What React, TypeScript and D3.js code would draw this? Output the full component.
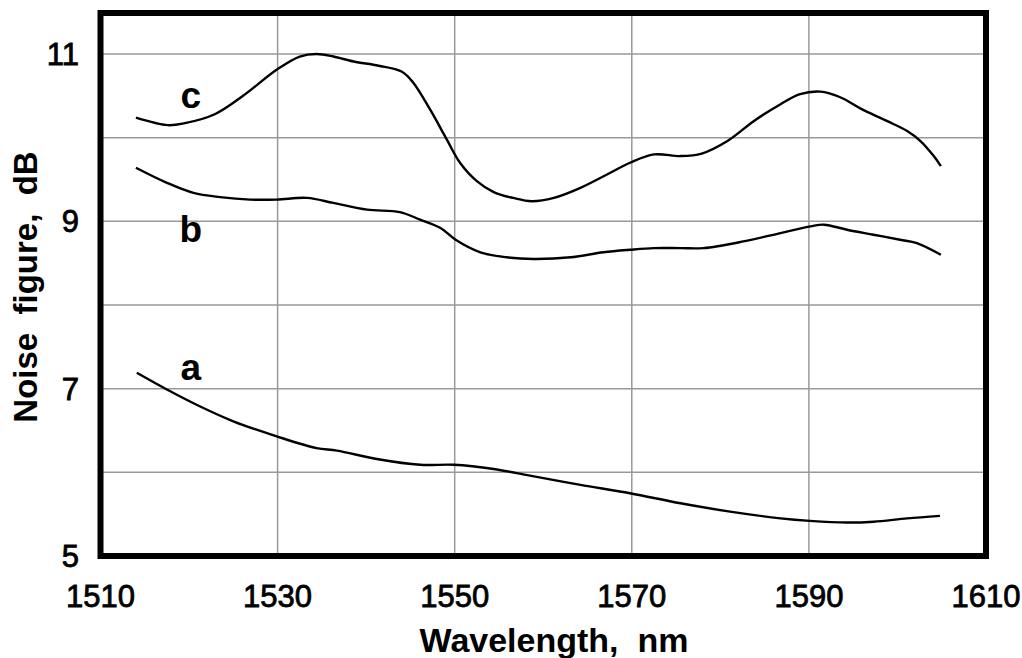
import React from "react";
import * as d3 from "d3";

const xTicks = [1510, 1530, 1550, 1570, 1590, 1610];
const yTicks = [5, 7, 9, 11];
const xGrid = [1530, 1550, 1570, 1590];
const yGrid = [6, 7, 8, 9, 10, 11];

const cWl = [1514.0, 1517.6, 1519.4, 1522.9, 1526.1, 1530.0, 1532.5, 1534.4, 1536.3, 1538.6, 1541.4, 1544.0, 1545.3, 1547.2, 1549.1, 1550.6, 1552.5, 1554.4, 1556.6, 1558.7, 1561.2, 1564.2, 1567.2, 1569.8, 1572.5, 1575.5, 1577.9, 1580.8, 1583.8, 1586.8, 1589.0, 1591.3, 1593.6, 1595.8, 1598.8, 1601.1, 1602.6, 1604.1, 1604.9];
const cNf = [10.24, 10.15, 10.17, 10.28, 10.50, 10.82, 10.97, 11.00, 10.97, 10.91, 10.86, 10.79, 10.66, 10.34, 9.98, 9.70, 9.48, 9.35, 9.28, 9.24, 9.28, 9.40, 9.56, 9.70, 9.80, 9.78, 9.81, 9.96, 10.20, 10.40, 10.52, 10.55, 10.48, 10.35, 10.20, 10.08, 9.96, 9.78, 9.66];

const bWl = [1514.0, 1517.5, 1520.5, 1523.5, 1526.9, 1529.9, 1533.3, 1536.3, 1540.1, 1543.8, 1546.1, 1548.4, 1550.1, 1552.9, 1555.9, 1558.9, 1563.1, 1566.8, 1569.8, 1572.5, 1575.5, 1578.1, 1582.6, 1586.8, 1590.2, 1591.7, 1594.3, 1597.3, 1600.3, 1602.2, 1604.9];
const bNf = [9.64, 9.46, 9.34, 9.29, 9.26, 9.26, 9.28, 9.22, 9.14, 9.11, 9.02, 8.92, 8.78, 8.63, 8.57, 8.55, 8.57, 8.63, 8.66, 8.68, 8.68, 8.68, 8.76, 8.86, 8.94, 8.96, 8.90, 8.84, 8.78, 8.74, 8.60];

const aWl = [1514.1, 1517.5, 1521.2, 1525.0, 1529.9, 1534.4, 1536.7, 1541.2, 1546.1, 1549.9, 1554.4, 1558.5, 1564.2, 1569.8, 1575.5, 1581.1, 1586.8, 1590.1, 1594.3, 1597.3, 1601.1, 1604.8];
const aNf = [7.19, 6.99, 6.79, 6.61, 6.43, 6.29, 6.26, 6.16, 6.09, 6.09, 6.04, 5.96, 5.85, 5.75, 5.63, 5.53, 5.45, 5.42, 5.40, 5.41, 5.45, 5.48];

const curveLabels = ["a", "b", "c"];
const labelWl = [1520.2, 1520.2, 1520.2];
const labelNf = [7.1, 8.75, 10.35];

const W = 1022;
const H = 658;
const FONT = "'Liberation Sans', Arial, Helvetica, sans-serif";

export default function App() {
  const x = d3.scaleLinear().domain([1510, 1610]).range([100.5, 986]);
  const y = d3.scaleLinear().domain([5, 11]).range([556, 54]);
  const line = d3
    .line<[number, number]>()
    .x((d) => x(d[0]))
    .y((d) => y(d[1]))
    .curve(d3.curveCatmullRom.alpha(0.5));

  const series = [
    { wl: aWl, nf: aNf },
    { wl: bWl, nf: bNf },
    { wl: cWl, nf: cNf },
  ];

  const yTop = y(11.49);
  const yBot = y(5);

  return (
    <svg
      width={W}
      height={H}
      style={{ position: "absolute", left: 0, top: 0, background: "#fff" }}
      fontFamily={FONT}
    >
      <rect x={0} y={0} width={W} height={H} fill="#fff" />
      {xGrid.map((v) => (
        <line key={"xg" + v} x1={x(v)} x2={x(v)} y1={yTop} y2={yBot} stroke="#999" strokeWidth={1.5} />
      ))}
      {yGrid.map((v) => (
        <line key={"yg" + v} x1={x(1510)} x2={x(1610)} y1={y(v)} y2={y(v)} stroke="#999" strokeWidth={1.5} />
      ))}
      {series.map((s, i) => (
        <path
          key={"s" + i}
          d={line(s.wl.map((w, j) => [w, s.nf[j]] as [number, number])) || ""}
          fill="none"
          stroke="#000"
          strokeWidth={2.4}
        />
      ))}
      <rect
        x={x(1510)}
        y={yTop}
        width={x(1610) - x(1510)}
        height={yBot - yTop}
        fill="none"
        stroke="#000"
        strokeWidth={6}
      />
      {yTicks.map((v) => (
        <text key={"yt" + v} x={79} y={y(v)} dy="0.36em" textAnchor="end" fontSize={31} fill="#000" stroke="#000" strokeWidth={0.8}>
          {v}
        </text>
      ))}
      {xTicks.map((v) => (
        <text key={"xt" + v} x={x(v)} y={607} textAnchor="middle" fontSize={31} fill="#000" stroke="#000" strokeWidth={0.8}>
          {v}
        </text>
      ))}
      <text x={554} y={652} textAnchor="middle" fontSize={34} fontWeight="bold" fill="#000" style={{ whiteSpace: "pre" }}>
        {"Wavelength,  nm"}
      </text>
      <text
        transform={`translate(37, 287) rotate(-90)`}
        textAnchor="middle"
        fontSize={33}
        fontWeight="bold"
        fill="#000"
        style={{ whiteSpace: "pre" }}
      >
        {"Noise  figure,  dB"}
      </text>
      {curveLabels.map((t, i) => (
        <text key={t} x={x(labelWl[i])} y={y(labelNf[i])} textAnchor="middle" fontSize={37} fontWeight="bold" fill="#000">
          {t}
        </text>
      ))}
    </svg>
  );
}
